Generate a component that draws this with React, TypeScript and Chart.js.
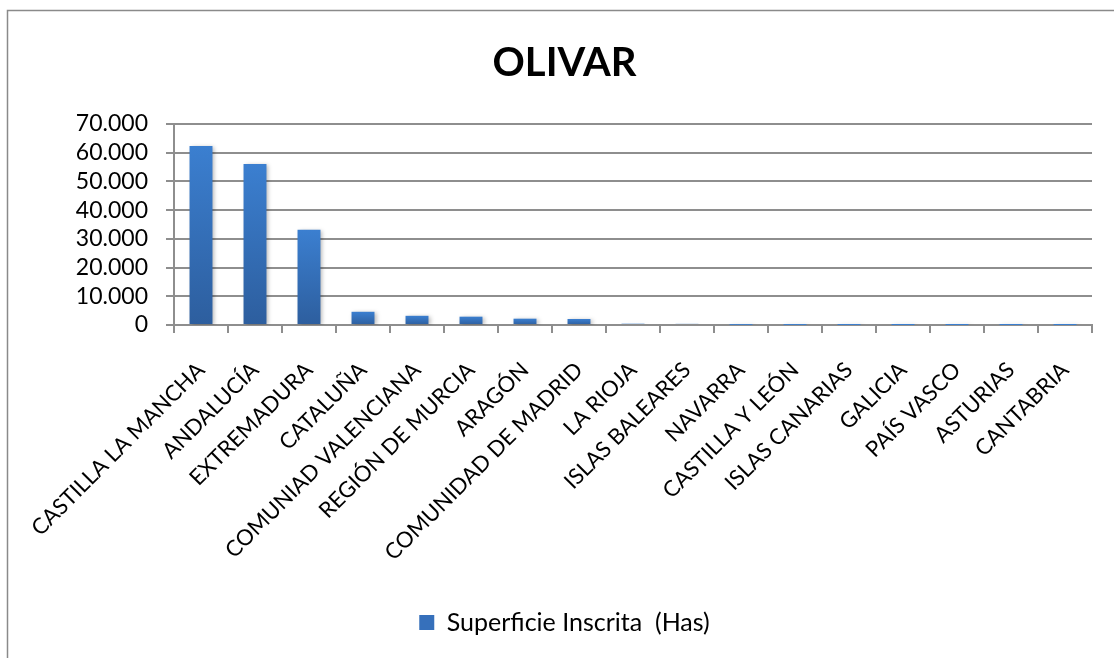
import React, { useEffect, useRef } from "react";
import { Chart, registerables } from "chart.js";

Chart.register(...registerables);

const categories = [
  "CASTILLA LA MANCHA",
  "ANDALUCÍA",
  "EXTREMADURA",
  "CATALUÑA",
  "COMUNIAD VALENCIANA",
  "REGIÓN DE MURCIA",
  "ARAGÓN",
  "COMUNIDAD DE MADRID",
  "LA RIOJA",
  "ISLAS BALEARES",
  "NAVARRA",
  "CASTILLA Y LEÓN",
  "ISLAS CANARIAS",
  "GALICIA",
  "PAÍS VASCO",
  "ASTURIAS",
  "CANTABRIA",
];

const superficieInscrita = [
  62300, 56100, 33200, 4600, 3200, 2900, 2200, 2100, 450, 400, 50, 30, 10, 5, 3, 2, 1,
];

const seriesLabel = "Superficie Inscrita  (Has)";
const titleText = "OLIVAR";
const yTicks = [0, 10000, 20000, 30000, 40000, 50000, 60000, 70000];

const FONT = "Lato, 'Open Sans', sans-serif";
const GRID = "#8e8e8e";

function fmt(v: number): string {
  return Math.round(v)
    .toString()
    .replace(/\B(?=(\d{3})+(?!\d))/g, ".");
}

const framePlugin = {
  id: "frame",
  beforeDraw(chart: any) {
    const ctx = chart.ctx;
    ctx.save();
    ctx.fillStyle = "#ffffff";
    ctx.fillRect(0, 0, chart.width, chart.height);
    ctx.strokeStyle = "#8a8a8a";
    ctx.lineWidth = 1.5;
    ctx.beginPath();
    ctx.moveTo(7.5, chart.height + 5);
    ctx.lineTo(7.5, 10.5);
    ctx.lineTo(chart.width + 5, 10.5);
    ctx.stroke();
    ctx.restore();
  },
};

const shadowPlugin = {
  id: "barShadow",
  beforeDatasetsDraw(chart: any) {
    const ctx = chart.ctx;
    ctx.save();
    ctx.shadowColor = "rgba(0,0,0,0.28)";
    ctx.shadowBlur = 4;
    ctx.shadowOffsetX = 2;
    ctx.shadowOffsetY = 1;
  },
  afterDatasetsDraw(chart: any) {
    chart.ctx.restore();
  },
};

export default function App() {
  const ref = useRef<HTMLCanvasElement | null>(null);

  useEffect(() => {
    if (!ref.current) return;
    const chart = new Chart(ref.current, {
      type: "bar",
      data: {
        labels: categories,
        datasets: [
          {
            label: seriesLabel,
            data: superficieInscrita,
            backgroundColor: (c: any) => {
              const ch = c.chart;
              const y = ch.scales && ch.scales.y;
              if (!y || c.type !== "data") return "#3a7bc8";
              const top = y.getPixelForValue(c.raw);
              const bottom = y.getPixelForValue(0);
              const g = ch.ctx.createLinearGradient(0, top, 0, Math.max(bottom, top + 1));
              g.addColorStop(0, "#3b7fd0");
              g.addColorStop(1, "#2d5e9e");
              return g;
            },
            borderWidth: 0,
            barPercentage: 0.425,
            categoryPercentage: 1,
          },
        ],
      },
      options: {
        responsive: false,
        animation: false,
        layout: { padding: { left: 37, right: 22, top: 0, bottom: 13 } },
        plugins: {
          title: {
            display: true,
            text: titleText,
            color: "#000",
            font: { family: FONT, size: 40, weight: "bold" },
            padding: { top: 39, bottom: 37 },
          },
          legend: {
            position: "bottom",
            labels: {
              color: "#000",
              font: { family: FONT, size: 25 },
              boxWidth: 15,
              boxHeight: 15,
              padding: 10,
              generateLabels: () => [
                {
                  text: seriesLabel,
                  fillStyle: "#3670bb",
                  strokeStyle: "#3670bb",
                  lineWidth: 0,
                  hidden: false,
                  datasetIndex: 0,
                },
              ],
            },
          },
          tooltip: { enabled: false },
        },
        scales: {
          x: {
            offset: true,
            grid: {
              display: true,
              offset: true,
              drawOnChartArea: false,
              drawTicks: true,
              tickLength: 8,
              color: GRID,
              lineWidth: 2,
            },
            border: { display: true, color: GRID, width: 2 },
            ticks: {
              autoSkip: false,
              maxRotation: 45,
              minRotation: 45,
              color: "#000",
              padding: 24,
              font: { family: FONT, size: 22 },
            },
            afterFit: (s: any) => {
              s.height = 600 - 325;
            },
          },
          y: {
            min: 0,
            max: 70000,
            afterBuildTicks: (s: any) => {
              s.ticks = yTicks.map((v) => ({ value: v }));
            },
            grid: {
              color: GRID,
              lineWidth: 2,
              tickLength: 8,
              drawTicks: true,
            },
            border: { display: true, color: GRID, width: 2 },
            ticks: {
              autoSkip: false,
              color: "#000",
              padding: 18,
              font: { family: FONT, size: 23 },
              callback: (v: any) => fmt(Number(v)),
            },
            afterFit: (s: any) => {
              s.width = 174 - 37;
            },
          },
        },
      },
      plugins: [framePlugin, shadowPlugin],
    });
    return () => chart.destroy();
  }, []);

  return (
    <div style={{ position: "fixed", left: 0, top: 0, width: 1114, height: 658, background: "#fff" }}>
      <canvas ref={ref} width={1114} height={658} style={{ display: "block" }} />
    </div>
  );
}
